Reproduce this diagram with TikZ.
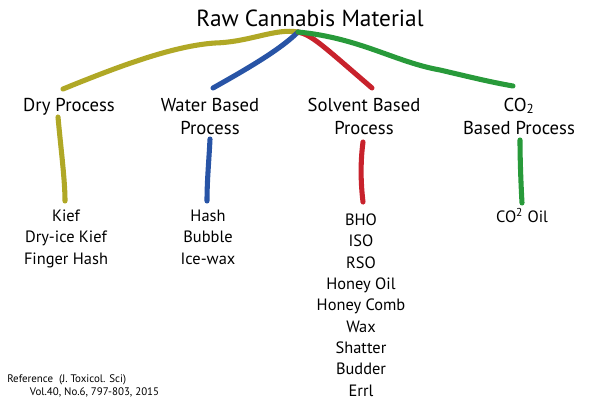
\documentclass[tikz,border=0pt]{standalone}
\usepackage{fontspec}
\setmainfont{PT Sans}
\usepackage{tikz}

\definecolor{dryc}{RGB}{176,168,38}
\definecolor{waterc}{RGB}{40,84,166}
\definecolor{solventc}{RGB}{200,34,44}
\definecolor{cotwoc}{RGB}{40,154,58}

\begin{document}
\begin{tikzpicture}[x=0.75pt,y=-0.75pt,
	proc/.style={align=center,anchor=base,font=\fontsize{14}{17.25}\selectfont,inner sep=0pt},
	item/.style={align=center,anchor=base,font=\fontsize{12.3}{16}\selectfont,inner sep=0pt},
	stroke/.style={line width=3.8pt,line cap=round}]
	\useasboundingbox (0,0) rectangle (600,400);
	\node[anchor=base,inner sep=0pt,font=\fontsize{17.5}{21}\selectfont] (root) at (310,26) {Raw Cannabis Material};
	\node[proc] (dry) at (69,111) {Dry Process};
	\node[proc] (water) at (210,134) {Water Based\\Process};
	\node[proc] (solvent) at (364,134) {Solvent Based\\Process};
	\node[proc] (cotwo) at (519,134) {CO\textsubscript{2}\\Based Process};
	\node[item] (kief) at (66,264) {Kief\\Dry-ice Kief\\Finger Hash};
	\node[item] (hash) at (208,264) {Hash\\Bubble\\Ice-wax};
	\node[item] (bho) at (361,396) {BHO\\ISO\\RSO\\Honey Oil\\Honey Comb\\Wax\\Shatter\\Budder\\Errl};
	\node[item] (cooil) at (522,222) {CO\textsuperscript{2} Oil};
	\node[anchor=base west,inner sep=0pt,align=left,font=\fontsize{8.2}{9.75}\selectfont] (ref) at (7,395) {Reference~~(J. Toxicol. Sci)\\\hspace*{17pt}Vol.40, No.6, 797-803, 2015};
	% ends of the strokes
	\coordinate (hub) at (298,32);
	\coordinate (dry in) at (63,89);
	\coordinate (water in) at (213,88);
	\coordinate (solvent in) at (372,88);
	\coordinate (cotwo in) at (513,86);
	\coordinate (dry out) at (58,117);
	\coordinate (kief in) at (65,201);
	\coordinate (water out) at (210,139);
	\coordinate (hash in) at (207,201);
	\coordinate (solvent out) at (363,142);
	\coordinate (bho in) at (363,202);
	\coordinate (cotwo out) at (520,140);
	\coordinate (cooil in) at (522,203);
	% from the top
	\draw[stroke,dryc] (hub) .. controls (275,28) and (250,42) .. (215,43) .. controls (170,46) and (110,70) .. (dry in);
	\draw[stroke,waterc] (hub) .. controls (280,50) and (245,70) .. (water in);
	\draw[stroke,solventc] (hub) .. controls (312,35) and (322,45) .. (solvent in);
	\draw[stroke,cotwoc] (hub) .. controls (360,38) and (395,62) .. (440,70) .. controls (470,77) and (490,82) .. (cotwo in);
	% down to the products
	\draw[stroke,dryc] (dry out) .. controls (61,150) and (65,180) .. (kief in);
	\draw[stroke,waterc] (water out) .. controls (209,160) and (207,180) .. (hash in);
	\draw[stroke,solventc] (solvent out) .. controls (360,165) and (361,185) .. (bho in);
	\draw[stroke,cotwoc] (cotwo out) .. controls (520,160) and (521,185) .. (cooil in);
\end{tikzpicture}
\end{document}
